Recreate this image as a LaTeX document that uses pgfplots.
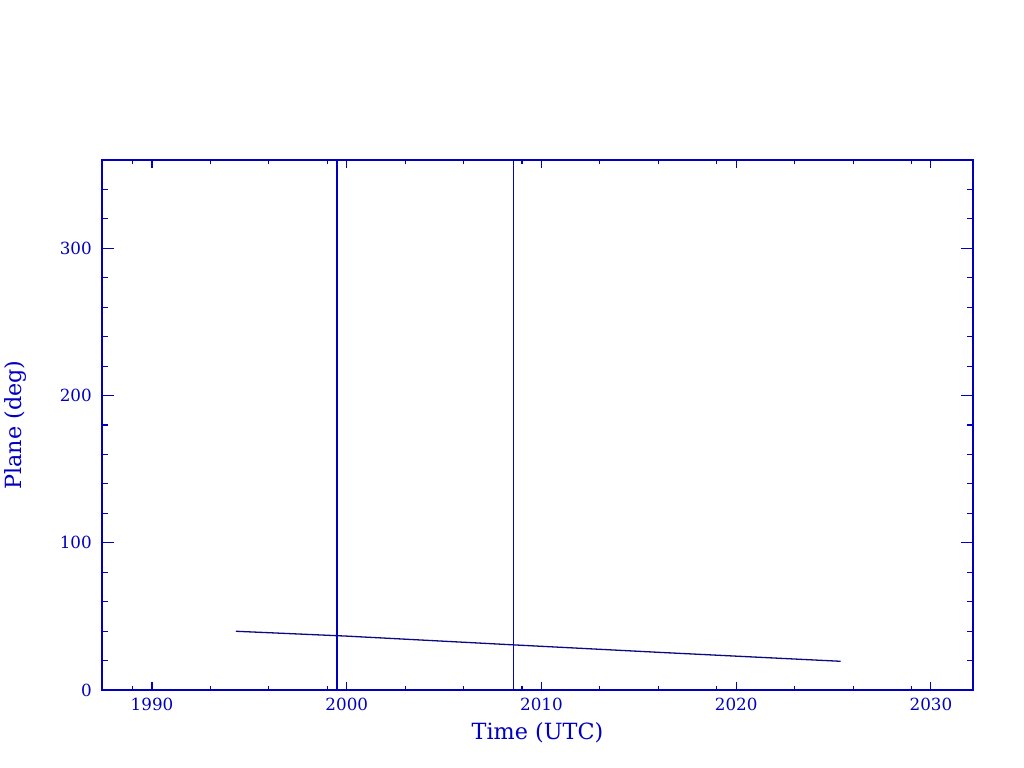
\documentclass[border=0pt]{standalone}
\usepackage{fontspec}
\setmainfont{DejaVu Serif}
\usepackage{pgfplots}
\pgfplotsset{compat=1.18}
\definecolor{pgblue}{RGB}{0,0,190}
\definecolor{pgline}{RGB}{10,10,130}
\begin{document}
\begin{tikzpicture}
\path[use as bounding box] (-102bp,-78bp) rectangle (922bp,690bp);
\begin{axis}[
  at={(0,0)}, anchor=south west,
  scale only axis, width=871bp, height=530bp,
  xmin=1987.43, xmax=2032.16, ymin=0, ymax=360,
  axis line style={pgblue, line width=1.1bp},
  tick align=inside,
  xtick={1990,2000,2010,2020,2030},
  minor xtick={1989,1993,1996,1999,2003,2006,2009,2013,2016,2019,2023,2026,2029},
  ytick={0,100,200,300},
  minor ytick={20,40,60,80,120,140,160,180,220,240,260,280,320,340},
  xtick style={pgblue, line width=1.1bp, /pgfplots/major tick length=8bp, /pgfplots/minor tick length=4bp},
  ytick style={pgblue, line width=1.1bp, /pgfplots/major tick length=12.5bp, /pgfplots/minor tick length=6.5bp},
  /pgf/number format/assume math mode=true,
  /pgf/number format/1000 sep={},
  ticklabel style={font=\fontsize{16.8}{20}\selectfont, text=pgblue},
  xticklabel style={anchor=base, yshift=-20bp, inner sep=0pt},
  yticklabel style={anchor=east, xshift=-10bp, inner sep=0pt},
  xlabel={Time (UTC)},
  ylabel={Plane (deg)},
  label style={font=\fontsize{22.4}{26}\selectfont, text=pgblue, inner sep=0pt},
  xlabel style={at={(axis description cs:0.5,-0.0925)}, anchor=base},
  ylabel style={at={(axis description cs:-0.0925,0.5)}, anchor=base},
]
\addplot[pgblue, line width=1.1bp] coordinates {(1999.50,0) (1999.50,360)};
\addplot[pgblue, line width=1.1bp] coordinates {(2008.54,0) (2008.54,360)};
\addplot[pgline, line width=1.3bp] coordinates {
  (1994.30,39.9) (2000.0,36.6) (2008.5,30.7) (2016.0,25.6) (2025.36,19.5)
};
\end{axis}
\end{tikzpicture}
\end{document}
